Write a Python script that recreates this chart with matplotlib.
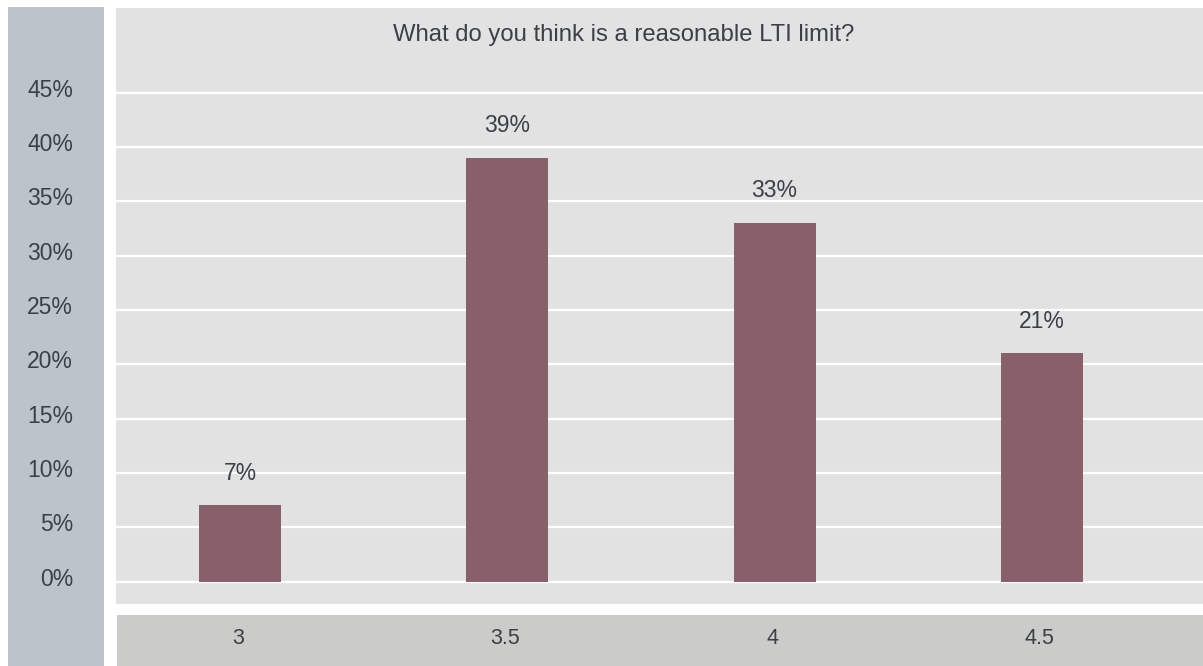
import matplotlib.pyplot as plt
import matplotlib.transforms as mtransforms
from matplotlib.patches import Rectangle

plt.rcParams["font.family"] = ["Liberation Sans", "DejaVu Sans"]

limits = ["3", "3.5", "4", "4.5"]
shares = [7, 39, 33, 21]
y_ticks = [0, 5, 10, 15, 20, 25, 30, 35, 40, 45]

text_color = "#3b4045"
bar_color = "#87606a"

fig = plt.figure(figsize=(12.03, 6.66), dpi=100)
fig.patch.set_facecolor("white")

# grey-blue strip behind the y labels
fig.patches.append(Rectangle((8 / 1203, 0), 96 / 1203, 659 / 666,
                             transform=fig.transFigure, facecolor="#bcc4cb",
                             edgecolor="none", zorder=-5))

ax = fig.add_axes([116 / 1203, 62 / 666, 1087 / 1203, 596 / 666])
ax.set_facecolor("#e2e2e2")
x = list(range(len(limits)))
bars = ax.bar(x, shares, width=0.307, color=bar_color, zorder=3)
ax.set_xlim(-0.464, 3.603)
ax.set_ylim(-2.07, 52.8)

ax.set_yticks(y_ticks)
ax.set_yticklabels([f"{t}%" for t in y_ticks])
ax.grid(axis="y", color="white", linewidth=1.6, zorder=1)
ax.tick_params(axis="y", length=0, pad=31, labelsize=16.5, labelcolor=text_color)
ax.set_xticks([])
for s in ax.spines.values():
    s.set_visible(False)

# lift the y labels a little above their grid lines
lift = mtransforms.ScaledTranslation(0, 5 / 100, fig.dpi_scale_trans)
for lbl in ax.get_yticklabels():
    lbl.set_transform(lbl.get_transform() + lift)

for rect, v in zip(bars, shares):
    ax.annotate(f"{v}%", (rect.get_x() + rect.get_width() / 2, v),
                xytext=(0, 15), textcoords="offset points",
                ha="center", va="bottom", fontsize=16.5, color=text_color)

ax.text(0.467, 0.955, "What do you think is a reasonable LTI limit?",
        transform=ax.transAxes, ha="center", va="center",
        fontsize=17.2, color=text_color)

# category band along the bottom
band = fig.add_axes([117 / 1203, 0, 1086 / 1203, 51 / 666])
band.set_facecolor("#cbcbca")
band.set_xlim(ax.get_xlim())
band.set_ylim(0, 1)
band.set_xticks([])
band.set_yticks([])
for s in band.spines.values():
    s.set_visible(False)
for i, lab in enumerate(limits):
    band.text(i - 0.01, 0.53, lab, ha="center", va="center",
              fontsize=15.5, color=text_color)

fig.savefig("out.png", dpi=100)
